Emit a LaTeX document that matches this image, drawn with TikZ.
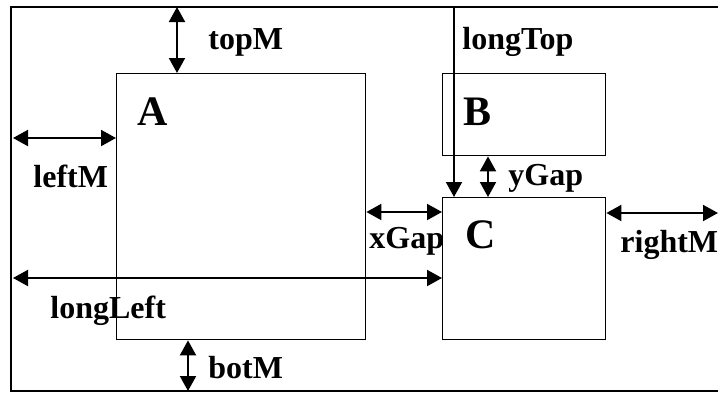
\documentclass[tikz,border=0pt]{standalone}
\usepackage{fontspec}
\setmainfont{Liberation Serif}
\usetikzlibrary{arrows.meta}

\begin{document}
\begin{tikzpicture}[x=0.5pt,y=-0.5pt,
		box/.style={draw, line width=0.7pt, inner sep=0pt, anchor=north west},
		dim/.style={line width=1pt, {Triangle[length=7.5pt,width=8pt]}-{Triangle[length=7.5pt,width=8pt]}},
		onedim/.style={line width=1pt, -{Triangle[length=7.5pt,width=8pt]}},
		lbl/.style={font=\fontsize{16}{18}\selectfont\bfseries, anchor=base west, inner sep=0pt},
		big/.style={font=\fontsize{21}{24}\selectfont\bfseries, anchor=base west, inner sep=0pt}]
		
		\useasboundingbox (0,0) rectangle (718,392);
		
		% Main rectangle
		\draw[line width=1pt] (11,7) rectangle (730,391);
		
		% Boxes
		\node[box, minimum width=124.5pt, minimum height=133pt] (A) at (116,73) {};
		\node[box, minimum width=81.5pt, minimum height=41pt] (B) at (442,73) {};
		\node[box, minimum width=81.5pt, minimum height=71pt] (C) at (442,197) {};
		
		% Box letters
		\node[big] (labA) at (137,125) {A};
		\node[big] (labB) at (463,125) {B};
		\node[big] (labC) at (465,248) {C};
		
		% Arrow ends
		\coordinate (topEnd) at (177,7);
		\coordinate (leftEnd) at (13,138);
		\coordinate (longLeftEnd) at (13,278);
		\coordinate (botEnd) at (188,391);
		\coordinate (longTopEnd) at (454,7);
		\coordinate (rightEnd) at (718,213);
		
		% Margins
		\draw[dim] (topEnd) -- (topEnd |- A.north);
		\draw[dim] (leftEnd) -- (leftEnd -| A.west);
		\draw[dim] (botEnd) -- (botEnd |- A.south);
		\draw[dim] (rightEnd -| C.east) -- (rightEnd);
		
		% Gaps
		\draw[dim] (A.east |- 0,212) -- (C.west |- 0,212);
		\draw[dim] (488,0 |- B.south) -- (488,0 |- C.north);
		
		% Long arrows
		\draw[dim] (longLeftEnd) -- (longLeftEnd -| C.west);
		\draw[onedim] (longTopEnd) -- (longTopEnd |- C.north);
		
		% Labels
		\node[lbl] (topM) at (208,49) {topM};
		\node[lbl] (longTop) at (462,49) {longTop};
		\node[lbl] (leftM) at (33,187) {leftM};
		\node[lbl] (yGap) at (508,185) {yGap};
		\node[lbl] (xGap) at (369,248) {xGap};
		\node[lbl] (rightM) at (620,252) {rightM};
		\node[lbl] (longLeft) at (50,318) {longLeft};
		\node[lbl] (botM) at (208,378) {botM};
		
	\end{tikzpicture}
\end{document}
